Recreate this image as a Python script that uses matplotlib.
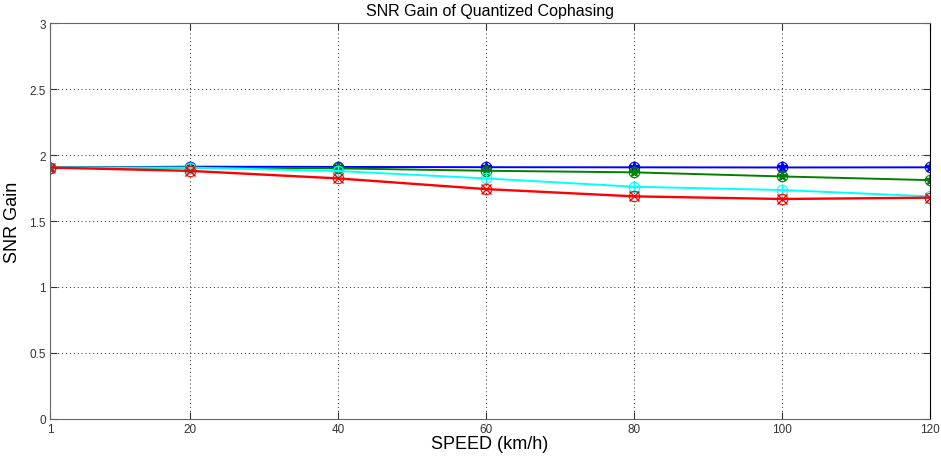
import numpy as np
import matplotlib
matplotlib.use('Agg')
import matplotlib.pyplot as plt

plt.rcParams['font.family'] = ['Liberation Sans', 'DejaVu Sans']

# speeds (km/h)
speed = [1, 20, 40, 60, 80, 100, 120]
# SNR gain of each quantization level
blue = [1.905, 1.912, 1.91, 1.908, 1.907, 1.906, 1.907]
green = [1.905, 1.905, 1.899, 1.881, 1.869, 1.838, 1.81]
cyan = [1.905, 1.905, 1.879, 1.823, 1.76, 1.735, 1.687]
red = [1.905, 1.88, 1.823, 1.742, 1.687, 1.667, 1.677]

xticks = [1, 20, 40, 60, 80, 100, 120]
yticks = [0, 0.5, 1, 1.5, 2, 2.5, 3]

fig = plt.figure(figsize=(9.41, 4.64), dpi=100)
ax = fig.add_axes([0.053, 0.095, 0.935, 0.853])

# each curve: line with marker, plus an open circle on top (like matlab overlay)
ax.plot(speed, blue, color=(0, 0, 1), lw=1.4, marker='*', ms=8)
ax.plot(speed, blue, ls='none', marker='o', ms=7.5, mfc='none', mec=(0, 0, 1), mew=0.8)
ax.plot(speed, green, color=(0, 0.5, 0), lw=1.4, marker='*', ms=8)
ax.plot(speed, green, ls='none', marker='o', ms=7.5, mfc='none', mec=(0, 0.5, 0), mew=0.8)
ax.plot(speed, cyan, color=(0, 1, 1), lw=1.4, marker='+', ms=8)
ax.plot(speed, cyan, ls='none', marker='o', ms=7.5, mfc='none', mec=(0, 1, 1), mew=0.8)
ax.plot(speed, red, color=(1, 0, 0), lw=1.7, marker='x', ms=6.5)
ax.plot(speed, red, ls='none', marker='o', ms=7.5, mfc='none', mec=(1, 0, 0), mew=0.8)

ax.set_xlim(1, 120)
ax.set_ylim(0, 3)
ax.set_xticks(xticks)
ax.set_yticks(yticks)
ax.set_yticklabels(['0', '0.5', '1', '1.5', '2', '2.5', '3'])
ax.tick_params(direction='in', top=True, right=True, labelsize=8.5, length=5,
               colors='#333333', pad=3)
ax.grid(True, color='#222222', ls=(0, (1, 3)), lw=0.7)
for s in ax.spines.values():
    s.set_color('#666666')
ax.spines['right'].set_color('black')

ax.set_title('SNR Gain of Quantized Cophasing', fontsize=11.5, pad=6)
ax.set_xlabel('SPEED (km/h)', fontsize=13, labelpad=0)
ax.set_ylabel('SNR Gain', fontsize=13, labelpad=6)

fig.savefig('out.png', dpi=100)
